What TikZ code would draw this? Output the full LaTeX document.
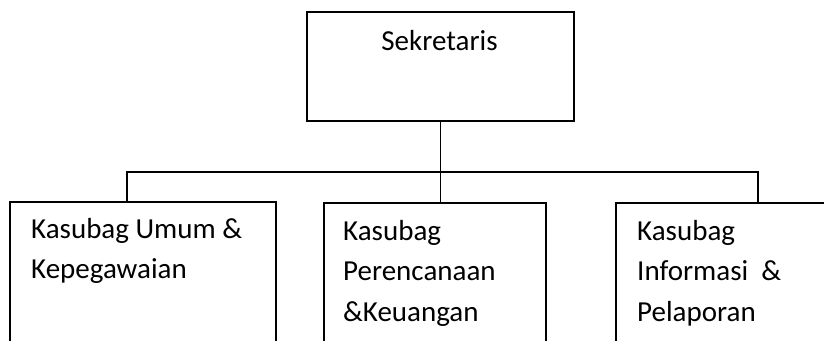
\documentclass[tikz,border=0pt]{standalone}
\usepackage{fontspec}
\setmainfont{Carlito}
\begin{document}
\begin{tikzpicture}[x=1pt,y=-1pt,
  box/.style={draw=black, line width=1.6pt, anchor=north west, inner sep=0pt},
  conn/.style={draw=black, line width=1.4pt},
  lbl/.style={anchor=base west, inner sep=0pt, font=\fontsize{29}{40}\selectfont}]
\useasboundingbox (0,0) rectangle (824,340);
\clip (0,0) rectangle (824,340);
% boxes
\node[box, minimum width=267pt, minimum height=109pt] (sek) at (306,11) {};
\node[box, minimum width=266pt, minimum height=170pt] (left) at (9,201) {};
\node[box, minimum width=222pt, minimum height=170pt] (mid) at (323,202) {};
\node[box, minimum width=250pt, minimum height=170pt] (right) at (615,202) {};
% texts
\node[lbl, anchor=base] (tsek) at (439.5,50) {Sekretaris};
\node[lbl] (l1) at (31,238) {Kasubag Umum \&};
\node[lbl] (l2) at (31,278) {Kepegawaian};
\node[lbl] (m1) at (343,240) {Kasubag};
\node[lbl] (m2) at (343,280) {Perencanaan};
\node[lbl] (m3) at (343,321) {\&Keuangan};
\node[lbl] (r1) at (637,240) {Kasubag};
\node[lbl] (r2) at (637,280) {Informasi\ \ \&};
\node[lbl] (r3) at (637,321) {Pelaporan};
% connectors
\coordinate (busL) at (127,172);
\coordinate (busR) at (758,172);
\draw[conn] (sek.south) -- (sek.south |- mid.north);
\draw[conn] (busL |- left.north) -- (busL) -- (busR) -- (busR |- right.north);
\end{tikzpicture}
\end{document}
